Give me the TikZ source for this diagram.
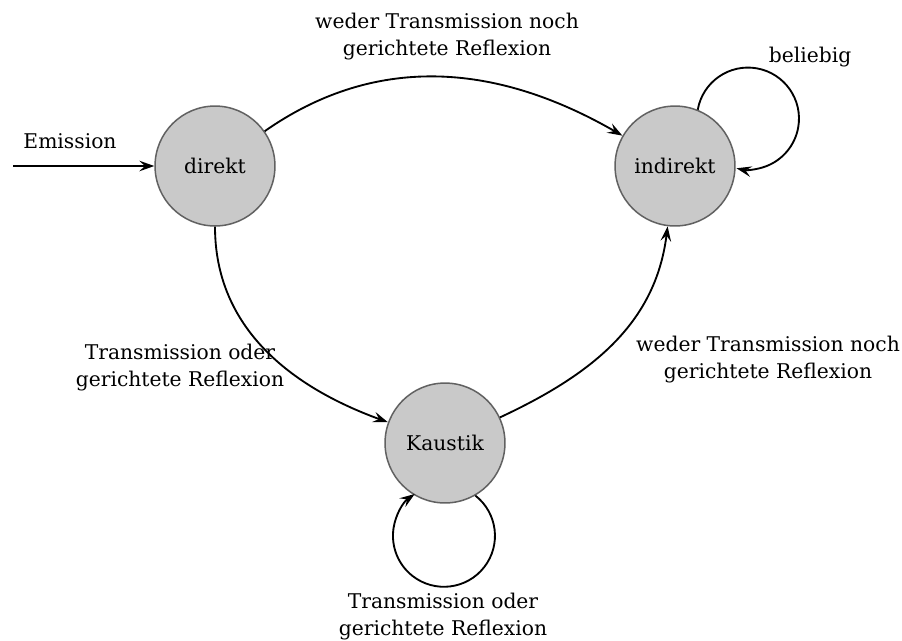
\documentclass[tikz,border=0pt]{standalone}
\usepackage{fontspec}
\setmainfont{DejaVu Serif}
\usetikzlibrary{arrows.meta}
\begin{document}
\begin{tikzpicture}[x=0.567pt,y=-0.567pt,
  font=\fontsize{11.5}{15.3}\selectfont,
  state/.style={circle,draw=black!62,line width=0.85pt,fill=black!21,inner sep=0pt,minimum size=68pt},
  trans/.style={line width=1.05pt,-{Stealth[length=8.5pt,width=6pt,inset=3.2pt]}},
  lbl/.style={align=center,inner sep=0pt}]
\useasboundingbox (0,0) rectangle (902,640);
% states
\node[state] (d) at (215,166) {direkt};
\node[state] (i) at (675,166) {indirekt};
\node[state] (k) at (445,443) {Kaustik};
% entry
\coordinate (start) at (13,166);
\draw[trans] (start) -- (d);
\node[lbl] (lemit) at (70,141) {Emission};
% transitions
\draw[trans] (d) to[out=35,in=150] (i);
\node[lbl] (ldi) at (447,37) {weder Transmission noch\\gerichtete Reflexion};
\draw[trans] (i.68) arc[start angle=190,end angle=463,radius=51];
\node[lbl] (lii) at (810,57) {beliebig};
\draw[trans] (d) to[out=-90,in=160] (k);
\node[lbl] (ldk) at (180,368) {Transmission oder\\gerichtete Reflexion};
\draw[trans] (k) to[out=25,in=-97] (i);
\node[lbl] (lki) at (768,360) {weder Transmission noch\\gerichtete Reflexion};
\draw[trans] (k.-60) arc[start angle=-52,end angle=235,radius=51];
\node[lbl] (lkk) at (443,617) {Transmission oder\\gerichtete Reflexion};
\end{tikzpicture}
\end{document}
